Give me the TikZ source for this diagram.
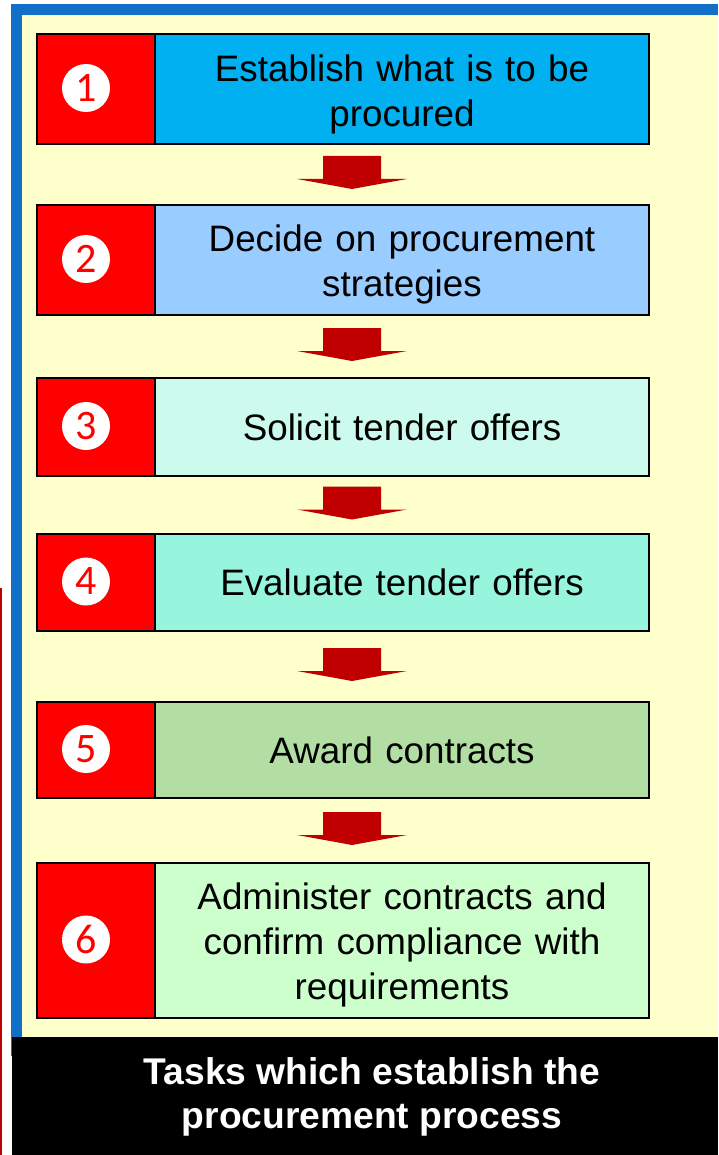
\documentclass[tikz,border=0pt]{standalone}
\usepackage{fontspec}
\setmainfont{Liberation Sans}
\newfontfamily\numfont{Carlito}
\usetikzlibrary{calc}

\definecolor{framebl}{HTML}{1070C8}
\definecolor{paper}{HTML}{FFFFCC}
\definecolor{arrowred}{HTML}{C00000}
\definecolor{stepa}{HTML}{00B0F0}
\definecolor{stepb}{HTML}{99CCFF}
\definecolor{stepc}{HTML}{CCFAEC}
\definecolor{stepd}{HTML}{96F5DC}
\definecolor{stepe}{HTML}{B3DEA3}
\definecolor{stepf}{HTML}{CCFFCC}

\tikzset{
	numbox/.style={draw=black,fill=red,line width=2.2pt,minimum width=118pt,inner sep=0pt},
	taskbox/.style={draw=black,line width=2.2pt,minimum width=494pt,inner sep=0pt},
	tasktext/.style={text width=480pt,align=center,inner sep=0pt,
		font=\fontsize{36.8}{44.8}\selectfont},
	numdisc/.style={circle,fill=white,text=red,minimum size=48pt,inner sep=0pt,
		font=\numfont\fontsize{42}{42}\selectfont},
	blockarrow/.style={fill=arrowred}
}

\begin{document}
\begin{tikzpicture}[x=1pt,y=-1pt]
	\useasboundingbox (0,0) rectangle (718,1155);
	% frame
	\fill[paper] (22,15) rectangle (718,1037);
	\fill[framebl] (11,4) rectangle (718,15);
	\fill[framebl] (11,4) rectangle (22,1056);
	\fill[arrowred] (0,588) rectangle (2,1155);
	\foreach \i/\y/\h/\dy/\col/\txt in
	{1/89/110/5.5/stepa/{Establish what is to be\\procured},
		2/260/110/4.5/stepb/{Decide on procurement\\strategies},
		3/427/98/0/stepc/{Solicit tender offers},
		4/582.5/97/0/stepd/{Evaluate tender offers},
		5/750/96/0/stepe/{Award contracts},
		6/940.5/155/4.5/stepf/{Administer contracts and\\confirm compliance with\\requirements}}
	{
		\node[numbox,minimum height=\h pt] (n\i) at (96,\y) {};
		\node[taskbox,fill=\col,minimum height=\h pt] (t\i) at (402,\y) {};
		\node[tasktext] (l\i) at ($(t\i.center)+(0,\dy)$) {\txt};
		\node[numdisc] (c\i) at ($(n\i.center)+(-10,-1)$) {\i};
	}
	\foreach \i/\j in {1/2,2/3,3/4,4/5,5/6}
	\fill[blockarrow] ($(t\i.south)!.5!(t\j.north)+(-50,-2)$)
		+(-29,-16.5) -- +(29,-16.5) -- +(29,6.5) -- +(55,6.5)
		-- +(0,16.5) -- +(-55,6.5) -- +(-29,6.5) -- cycle;
	% caption
	\fill[black] (12,1037) rectangle (718,1155);
	\node[text=white,align=center,font=\bfseries\fontsize{37.2}{44}\selectfont] (caption)
		at (372,1097) {Tasks which establish the\\procurement process};
\end{tikzpicture}
\end{document}
